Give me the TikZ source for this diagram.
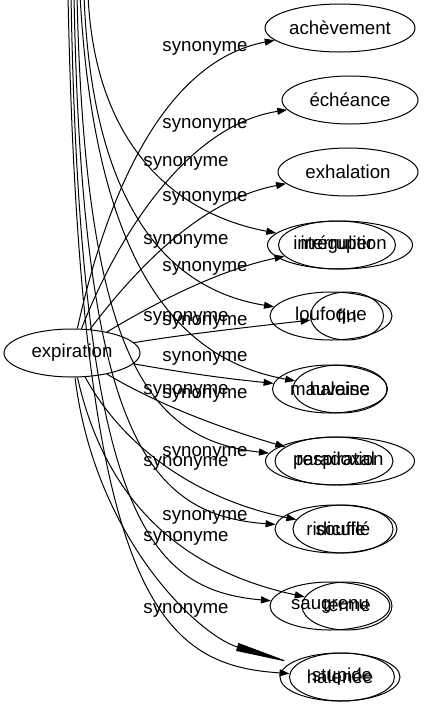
\documentclass[tikz,border=0pt]{standalone}
\usepackage{fontspec}
\setmainfont{Liberation Sans}
\usetikzlibrary{shapes.geometric,arrows.meta}

\begin{document}
\begin{tikzpicture}[x=0.75pt,y=-0.75pt,->,>={Triangle[length=7.5pt,width=5.25pt]},line width=0.75pt,
    word node/.style={ellipse,draw,inner sep=0pt,minimum height=36pt,font=\fontsize{14}{16}\selectfont},
    syn label/.style={inner sep=0pt,font=\fontsize{14}{16}\selectfont}]

            \useasboundingbox (0,0) rectangle (432,707);
            \clip (0,0) rectangle (432,707);

            \node[word node, minimum width=102pt] (expiration) at (72,353) {expiration};

            \node[word node, minimum width=112.5pt] (achevement) at (340,28) {achèvement};
            \node[word node, minimum width=102pt] (echeance) at (350,100) {échéance};
            \node[word node, minimum width=105pt] (exhalation) at (348,172) {exhalation};
            \node[word node, minimum width=108.75pt] (interruption) at (340,245) {interruption};
            \node[word node, minimum width=87.75pt] (irregulier) at (337,245) {irrégulier};
            \node[word node, minimum width=91.5pt] (loufoque) at (331,316) {loufoque};
            \node[word node, minimum width=54.75pt] (fin) at (347,316) {fin};
            \node[word node, minimum width=86.25pt] (mauvaise) at (330,389) {mauvaise};
            \node[word node, minimum width=70.5pt] (haleine) at (340,389) {haleine};
            \node[word node, minimum width=111.75pt] (respiration) at (340,461) {respiration};
            \node[word node, minimum width=88.5pt] (paradoxal) at (334,461) {paradoxal};
            \node[word node, minimum width=91.5pt] (ridicule) at (336,529) {ridicule};
            \node[word node, minimum width=75pt] (souffle) at (343,529) {soufflé};
            \node[word node, minimum width=90pt] (saugrenu) at (330,606) {saugrenu};
            \node[word node, minimum width=67.5pt] (terme) at (347,606) {terme};
            \node[word node, minimum width=90pt] (halenee) at (340,677) {halenée};
            \node[word node, minimum width=78.75pt] (stupide) at (342,677) {stupide};

            % edge labels
            \foreach \y [count=\i] in {48,125,198,268,322,358,395,453,517}
                \node[syn label] (sr\i) at (205,\y) {synonyme};
            \foreach \y [count=\i] in {163,241,318,391,463,538,610}
                \node[syn label] (sl\i) at (186,\y) {synonyme};

            % edges from expiration
            \foreach \dest/\ax/\ay/\bx/\by in {achevement/110/180/170/60, echeance/120/230/190/125,
                exhalation/135/270/200/200, irregulier/160/300/220/270, fin/180/335/240/328,
                mauvaise/180/372/220/378, paradoxal/150/400/210/425, souffle/125/450/200/500,
                terme/105/500/180/570}
                \draw (expiration) .. controls (\ax,\ay) and (\bx,\by) .. (\dest);

            \draw[-{Triangle[length=42pt,width=6pt]}] (expiration) .. controls (95,540) and (200,636) .. (halenee);

            % edges coming from above
            \foreach \sx/\ax/\ay/\bx/\by/\dest [count=\i] in {88/95/150/180/215/interruption,
                84/92/210/170/290/loufoque, 80/95/270/180/360/haleine, 77/85/360/150/440/respiration,
                74/82/440/150/515/ridicule, 71/80/520/150/590/saugrenu, 68/80/600/160/665/stupide}{
                \coordinate (top\i) at (\sx,-5);
                \draw (top\i) .. controls (\ax,\ay) and (\bx,\by) .. (\dest);
            }

\end{tikzpicture}
\end{document}
